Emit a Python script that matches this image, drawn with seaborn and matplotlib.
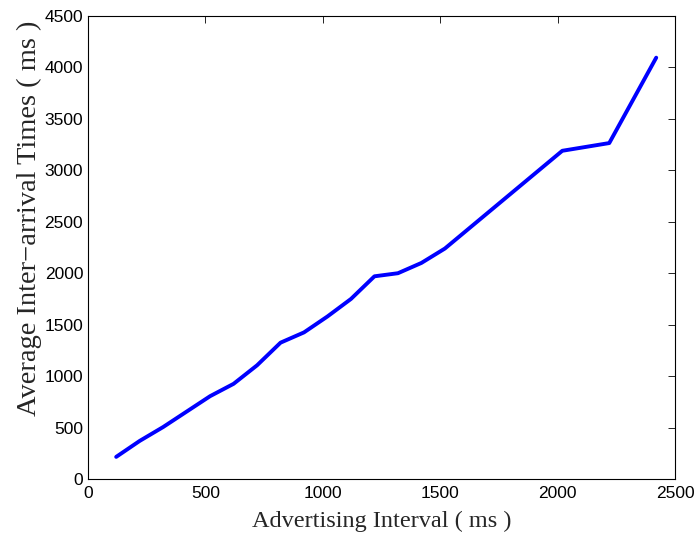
import matplotlib
matplotlib.use("Agg")
import matplotlib.pyplot as plt
import seaborn as sns
import pandas as pd

adv_interval = [120, 220, 320, 420, 520, 620, 720, 820, 920, 1020, 1120, 1220,
                1320, 1420, 1520, 1620, 1720, 1820, 1920, 2020, 2220, 2420]
inter_arrival = [215, 370, 505, 655, 805, 925, 1105, 1325, 1425, 1580, 1750, 1970,
                 2000, 2100, 2240, 2430, 2620, 2810, 3000, 3190, 3265, 4095]

x_ticks = [0, 500, 1000, 1500, 2000, 2500]
y_ticks = [0, 500, 1000, 1500, 2000, 2500, 3000, 3500, 4000, 4500]

df = pd.DataFrame({"x": adv_interval, "y": inter_arrival})

sns.set_style("white")
fig = plt.figure(figsize=(6.96, 5.33), dpi=100)
ax = fig.add_axes([88/696, 54/533, (675-88)/696, (479-16)/533])

sns.lineplot(data=df, x="x", y="y", ax=ax, color=(0, 0, 1), linewidth=2.8)

ax.set_xlim(0, 2500)
ax.set_ylim(0, 4500)
ax.set_xticks(x_ticks)
ax.set_yticks(y_ticks)
ax.set_xticklabels([str(t) for t in x_ticks], family="Liberation Sans", fontsize=12.5)
ax.set_yticklabels([str(t) for t in y_ticks], family="Liberation Sans", fontsize=12.5)
ax.tick_params(axis="x", pad=5)
ax.tick_params(direction="in", length=5, width=0.6, top=True, right=True, colors="black")
for s in ax.spines.values():
    s.set_visible(True)
    s.set_color("black")
    s.set_linewidth(0.8)

ax.set_xlabel("Advertising Interval ( ms )", family="Liberation Serif", fontsize=17.5, labelpad=7)
ax.set_ylabel("Average Inter\u2212arrival Times ( ms )", family="Liberation Serif", fontsize=20.5)
ax.yaxis.set_label_coords(-0.078, 0.562)

fig.savefig("out.png", dpi=100)
